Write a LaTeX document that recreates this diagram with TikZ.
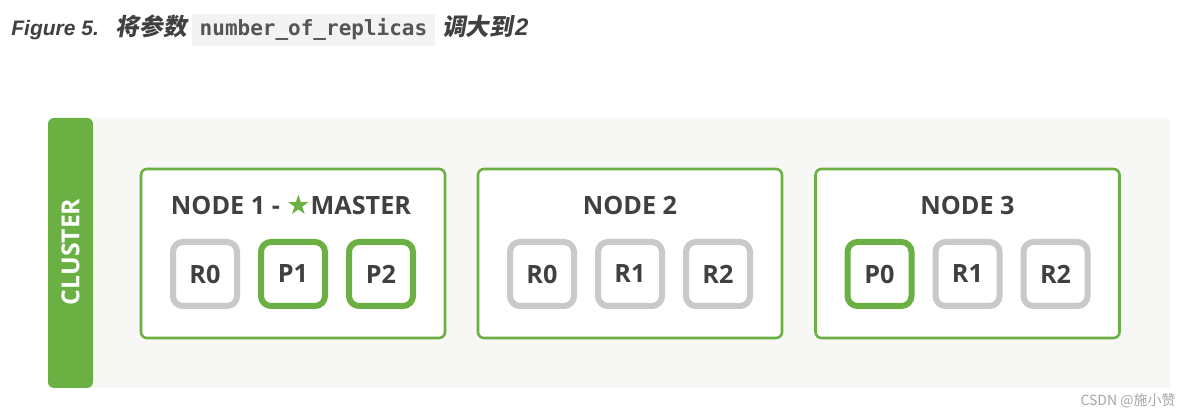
\documentclass[tikz,border=0pt]{standalone}
\usepackage{fontspec}
\setsansfont{Open Sans}
\setmonofont{DejaVu Sans Mono}
\newfontfamily\titlefont{Liberation Sans}
\newfontfamily\cjk{Noto Sans CJK SC}
\newfontfamily\cjkslant{Noto Sans CJK SC}[FakeSlant=0.18]
\newfontfamily\symfont{DejaVu Sans}
\usepackage{xcolor}
\definecolor{Leaf}{HTML}{6AB042}
\definecolor{Ash}{HTML}{C9C9C9}
\definecolor{Ink}{HTML}{404040}
\definecolor{Mist}{HTML}{F7F7F5}
\definecolor{Code}{HTML}{F3F3F3}
\definecolor{CodeInk}{HTML}{555555}
\colorlet{cGreen}{Leaf}
\colorlet{cGrey}{Ash}
\usetikzlibrary{positioning}
\tikzset{
	node distance = 9pt,
	font = \sffamily\bfseries,
	server/.style={
		draw=cGreen,
		fill=white,
		line width=1.3pt,
		rounded corners=3pt,
		minimum width=152pt,
		minimum height=84.5pt
	},
	server title/.style={
		text=Ink,
		font=\sffamily\bfseries\fontsize{12.6}{14}\selectfont
	},
	shard/.style={
		draw,
		fill=white,
		line width=3pt,
		rounded corners=5pt,
		minimum size=32pt,
		inner sep=0pt,
		text=Ink,
		font=\sffamily\bfseries\fontsize{12.6}{14}\selectfont
	},
	primary/.style={shard, draw=cGreen},
	replica/.style={shard, draw=cGrey}
}

\begin{document}
\begin{tikzpicture}[x=0.5pt, y=-0.5pt]
\useasboundingbox[fill=white] (0,0) rectangle (1184,416);

% ---
% Caption
% ---
\node[anchor=base west, inner sep=0pt, text=Ink] (caption) at (11,36)
	{\setlength\fboxsep{2.5pt}%
	\titlefont\bfseries\itshape\fontsize{10.5}{13}\selectfont Figure 5.\hspace{8.5pt}%
	{\cjkslant\bfseries\fontsize{11.8}{13}\selectfont 将参数}\hspace{2.5pt}%
	\colorbox{Code}{\hspace{1.5pt}\color{CodeInk}\ttfamily\upshape\bfseries\fontsize{10.5}{12}\selectfont number\_of\_replicas\hspace{1.5pt}}\hspace{3.5pt}%
	{\cjkslant\bfseries\fontsize{11.8}{13}\selectfont 调大到}\hspace{1pt}{\fontsize{12}{13}\selectfont 2}};

% ---
% Cluster frame
% ---
\fill[Mist, rounded corners=2pt] (48,118) rectangle (1170,388);
\fill[cGreen, rounded corners=3pt] (48,118) rectangle (93,388);
\node[rotate=90, text=white, font=\sffamily\bfseries\fontsize{12.4}{14}\selectfont] (cluster) at (70.5,252) {CLUSTER};

% ---
% Servers
% ---
\node[server] (n1) at (293,253.5) {};
\node[server] (n2) at (630,253.5) {};
\node[server] (n3) at (967.5,253.5) {};

\node[server title] (n1t) at (291,205) {NODE 1 - {\symfont\fontsize{13.5}{14}\selectfont\color{cGreen}★}MASTER};
\node[server title] (n2t) at (630,205) {NODE 2};
\node[server title] (n3t) at (967.5,205) {NODE 3};

% ---
% Shards
% ---
\node[replica] (n1r0) at (205,274) {R0};
\node[primary, right=of n1r0] (n1p1) {P1};
\node[primary, right=of n1p1] (n1p2) {P2};

\node[replica] (n2r0) at (542,274) {R0};
\node[replica, right=of n2r0] (n2r1) {R1};
\node[replica, right=of n2r1] (n2r2) {R2};

\node[primary] (n3p0) at (879.5,274) {P0};
\node[replica, right=of n3p0] (n3r1) {R1};
\node[replica, right=of n3r1] (n3r2) {R2};

% watermark
\node[anchor=base east, inner sep=0pt, text=gray!70, font=\cjk\fontsize{7}{8}\selectfont] (mark) at (1176,406) {CSDN @施小赞};
\end{tikzpicture}
\end{document}
